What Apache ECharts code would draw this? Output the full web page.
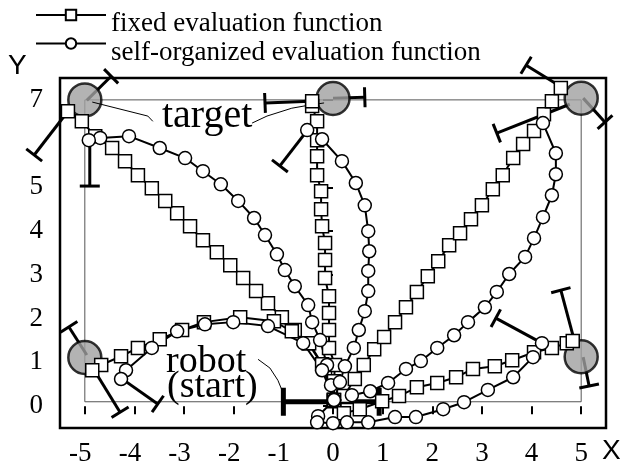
<!DOCTYPE html>
<html><head><meta charset="utf-8">
<script src="https://cdn.jsdelivr.net/npm/echarts@6/dist/echarts.min.js"></script>
<style>html,body{margin:0;padding:0;background:#fff}#c{width:624px;height:470px}</style>
</head><body><div id="c"></div>
<script>
// ---- tick labels ----
const xTicks = [-5,-4,-3,-2,-1,0,1,2,3,4,5];
const yTicks = [0,1,2,3,4,5,7];

// ---- targets ----
const targetX = [-5, 0, 5, -5, 5];
const targetY = [7.0, 7.03, 7.04, 1.11, 1.13];

// ---- workspace rectangle ----
const workspace = [[-5,0.1],[5,0.1],[5,7.0],[-5,7.0],[-5,0.1]];

// ---- trajectories: fixed evaluation function (squares) ----
const fixedUpperLeft = [[0.02,0.11],[-0.16,0.85],[-0.50,1.44],[-0.77,1.74],[-1.03,2.03],[-1.31,2.35],[-1.55,2.63],[-1.81,2.93],[-2.07,3.22],[-2.34,3.52],[-2.62,3.79],[-2.88,4.11],[-3.14,4.41],[-3.38,4.69],[-3.65,4.98],[-3.93,5.28],[-4.19,5.60],[-4.45,5.90],[-4.79,6.17],[-5.06,6.51],[-5.34,6.74]];
const fixedUpperMid = [[0.02,0.14],[0.02,0.57],[0.04,0.94],[-0.08,1.33],[-0.08,1.74],[-0.08,2.13],[-0.08,2.51],[-0.16,2.93],[-0.16,3.34],[-0.16,3.73],[-0.22,4.11],[-0.24,4.50],[-0.24,4.91],[-0.32,5.28],[-0.32,5.71],[-0.32,6.08],[-0.32,6.51],[-0.42,6.86],[-0.42,6.97]];
const fixedUpperRight = [[0.02,0.14],[0.22,0.23],[0.44,0.62],[0.62,0.94],[0.83,1.30],[1.03,1.58],[1.25,1.92],[1.47,2.26],[1.69,2.61],[1.91,2.97],[2.12,3.31],[2.34,3.68],[2.56,3.95],[2.78,4.27],[3.00,4.59],[3.22,4.96],[3.42,5.28],[3.63,5.67],[3.83,5.99],[4.05,6.29],[4.25,6.67],[4.41,6.97],[4.59,7.27]];
const fixedLowerLeft = [[0.02,0.14],[-0.22,0.96],[-0.48,1.44],[-0.83,1.71],[-1.19,1.94],[-1.87,2.03],[-2.60,1.92],[-3.04,1.74],[-3.49,1.53],[-3.93,1.33],[-4.27,1.14],[-4.67,0.94],[-4.85,0.82]];
const fixedLowerRight = [[0.02,0.14],[0.22,-0.16],[0.54,-0.07],[0.99,0.11],[1.33,0.23],[1.69,0.43],[2.10,0.53],[2.48,0.66],[2.82,0.85],[3.26,0.91],[3.61,1.05],[4.05,1.23],[4.41,1.33],[4.71,1.44],[4.83,1.49]];

// ---- trajectories: self-organized evaluation function (circles) ----
const selfUpperLeft = [[0.02,0.14],[-0.04,0.48],[-0.12,0.94],[-0.26,1.51],[-0.42,1.92],[-0.50,2.31],[-0.77,2.74],[-0.97,3.11],[-1.13,3.47],[-1.37,3.91],[-1.59,4.30],[-1.91,4.69],[-2.26,5.07],[-2.62,5.37],[-2.98,5.67],[-3.49,5.90],[-4.11,6.17],[-4.69,6.13],[-4.92,6.08]];
const selfUpperMid = [[0.02,0.14],[0.14,0.55],[0.24,0.91],[0.42,1.33],[0.52,1.74],[0.64,2.17],[0.71,2.63],[0.71,3.09],[0.73,3.54],[0.71,4.00],[0.64,4.59],[0.46,5.10],[0.18,5.60],[-0.22,6.10],[-0.52,6.31]];
const selfUpperRight = [[0.02,0.14],[0.38,0.25],[0.75,0.34],[1.11,0.53],[1.47,0.85],[1.77,1.03],[2.10,1.33],[2.44,1.62],[2.72,1.92],[3.06,2.26],[3.30,2.61],[3.55,3.02],[3.87,3.41],[4.05,3.84],[4.23,4.32],[4.41,4.82],[4.49,5.30],[4.49,5.78],[4.23,6.47]];
const selfLowerLeft = [[0.02,0.14],[-0.22,0.82],[-0.60,1.44],[-1.31,1.83],[-2.01,1.92],[-2.58,1.87],[-3.14,1.71],[-3.65,1.33],[-4.17,0.82],[-4.27,0.62]];
const selfLowerRight = [[0.02,0.14],[-0.30,-0.23],[-0.32,-0.37],[0.00,-0.39],[0.28,-0.37],[0.71,-0.37],[1.25,-0.25],[1.67,-0.25],[2.22,-0.07],[2.64,0.09],[3.12,0.37],[3.63,0.66],[4.03,1.12],[4.21,1.44]];

// ---- final robot poses (bar with end cap): [x1,y1,x2,y2] ----
const finalPoses = [
  [-4.96,6.99,-4.47,7.54],[-5.34,6.74,-6.02,5.74],[-4.90,6.03,-4.90,5.03],
  [-0.46,6.97,-1.37,6.93],[0.00,7.04,0.64,7.06],[-0.56,6.24,-1.07,5.49],
  [4.61,7.29,3.89,7.79],[5.04,7.04,5.48,6.49],[4.77,6.90,3.30,6.24],
  [4.21,1.44,3.28,2.01],[4.85,1.55,4.59,2.65],[5.04,1.12,5.16,0.46],
  [-4.96,1.17,-5.32,1.81],[-4.81,0.82,-4.29,-0.14],[-4.27,0.64,-3.53,0.05]
];
// ---- robot at start ----
const robotStart = [[-1.0,0.1,0.93,0.1]];

// ---- annotation leader lines ----
const targetLeader1 = [[-4.85,6.95],[-3.73,6.63],[-3.63,6.51]];
const targetLeader2 = [[-1.63,6.47],[-1.33,6.63],[-0.83,6.81],[-0.48,6.88],[-0.18,6.93]];
const robotLeader = [[-1.51,1.07],[-1.27,0.87],[-1.11,0.59],[-1.03,0.37]];

const FIXED = 'fixed evaluation function';
const SELF = 'self-organized evaluation function';
const SERIF = "'Liberation Serif','Times New Roman',serif";
const SANS = "'Liberation Sans',Arial,sans-serif";

function barRender(capHalf, width, bothEnds) {
  return function (params, api) {
    const p1 = api.coord([api.value(0), api.value(1)]);
    const p2 = api.coord([api.value(2), api.value(3)]);
    const dx = p2[0]-p1[0], dy = p2[1]-p1[1];
    const L = Math.hypot(dx, dy) || 1;
    const nx = -dy / L, ny = dx / L;
    const st = {stroke:'#000', lineWidth: width, fill: null};
    const ch = [
      {type:'line', shape:{x1:p1[0],y1:p1[1],x2:p2[0],y2:p2[1]}, style: st},
      {type:'line', shape:{x1:p2[0]-nx*capHalf,y1:p2[1]-ny*capHalf,x2:p2[0]+nx*capHalf,y2:p2[1]+ny*capHalf}, style: st}
    ];
    if (bothEnds) ch.push({type:'line', shape:{x1:p1[0]-nx*capHalf,y1:p1[1]-ny*capHalf,x2:p1[0]+nx*capHalf,y2:p1[1]+ny*capHalf}, style: st});
    return {type:'group', children: ch};
  };
}

function traj(name, data, symbol) {
  return {
    type:'line', name: name, data: data, z: 6,
    symbol: symbol, symbolSize: 13, showAllSymbol: true,
    lineStyle: {color:'#000', width: 2},
    itemStyle: {color:'#fff', borderColor:'#000', borderWidth: 1.5},
    emphasis: {disabled: true}
  };
}
function plain(data, w, color, z) {
  return {type:'line', data: data, symbol:'none', z: z, silent: true,
    lineStyle:{color: color, width: w}, emphasis:{disabled:true}};
}
function legendFor(name, top) {
  return {
    orient: 'vertical', left: 35, top: top, padding: 0,
    itemWidth: 70, itemHeight: 13,
    data: [name],
    formatter: n => '{t|' + n + '}',
    textStyle: {fontFamily: SERIF, fontSize: 27, color:'#000',
      rich: {t: {fontFamily: SERIF, fontSize: 27, color:'#000', lineHeight: 18, padding: [18,0,0,0]}}},
    selectedMode: false
  };
}

const chart = echarts.init(document.getElementById('c'), null, {renderer:'canvas'});
chart.setOption({
  animation: false,
  backgroundColor: '#fff',
  grid: {left: 60, right: 18, top: 78, bottom: 42, show: true, borderColor:'#000', borderWidth: 2.5, backgroundColor: 'transparent'},
  legend: [legendFor(FIXED, -7.5), legendFor(SELF, 21)],
  xAxis: {
    type:'value', min: -5.5, max: 5.5,
    axisLine: {show:false}, splitLine: {show:false},
    axisTick: {show:true, length: 8, inside:false, customValues: xTicks, lineStyle:{color:'#000', width: 2}},
    axisLabel: {customValues: xTicks, margin: 12, fontFamily: SERIF, fontSize: 27, color:'#000',
      formatter: v => v < 0 ? '-' + Math.abs(v) + '{h|-}' : String(v),
      rich: {h: {color:'rgba(0,0,0,0)', fontFamily: SERIF, fontSize: 27}}}
  },
  yAxis: {
    type:'value', min: -0.5, max: 7.5,
    axisLine: {show:false}, splitLine: {show:false},
    axisTick: {show:true, length: 10, inside:false, customValues: yTicks, lineStyle:{color:'#000', width: 2}},
    axisLabel: {customValues: yTicks, margin: 17, fontFamily: SERIF, fontSize: 27, color:'#000'}
  },
  graphic: [
    {type:'text', left: 162, top: 96, z: 100, style:{text:'target', font: '40px ' + SERIF, fill:'#000'}},
    {type:'text', left: 166, top: 343, z: 100, style:{text:'robot', font: '38px ' + SERIF, fill:'#000'}},
    {type:'text', left: 167, top: 368, z: 100, style:{text:'(start)', font: '38px ' + SERIF, fill:'#000'}},
    {type:'text', left: 8, top: 52, z: 100, style:{text:'Y', font: '28px ' + SANS, fill:'#000'}},
    {type:'text', left: 602, top: 437, z: 100, style:{text:'X', font: '28px ' + SANS, fill:'#000'}}
  ],
  series: [
    plain(workspace, 1, '#555', 1),
    {type:'custom', z: 2, silent: true, renderItem: barRender(10, 3, false), data: finalPoses, encode:{x:[0,2], y:[1,3]}},
    {type:'custom', z: 2, silent: true, renderItem: barRender(14, 5, true), data: robotStart, encode:{x:[0,2], y:[1,3]}},
    {type:'scatter', z: 3, silent: true, symbol:'circle', symbolSize: 33,
      data: targetX.map((x,i) => [x, targetY[i]]),
      itemStyle:{color:'#a0a0a0', borderColor:'#000', borderWidth: 2.5}},
    plain(targetLeader1, 1, '#000', 4),
    plain(targetLeader2, 1, '#000', 4),
    plain(robotLeader, 1, '#000', 4),
    traj(FIXED, fixedUpperLeft, 'rect'),
    traj(FIXED, fixedUpperMid, 'rect'),
    traj(FIXED, fixedUpperRight, 'rect'),
    traj(FIXED, fixedLowerLeft, 'rect'),
    traj(FIXED, fixedLowerRight, 'rect'),
    traj(SELF, selfUpperLeft, 'circle'),
    traj(SELF, selfUpperMid, 'circle'),
    traj(SELF, selfUpperRight, 'circle'),
    traj(SELF, selfLowerLeft, 'circle'),
    traj(SELF, selfLowerRight, 'circle')
  ]
});
</script></body></html>
